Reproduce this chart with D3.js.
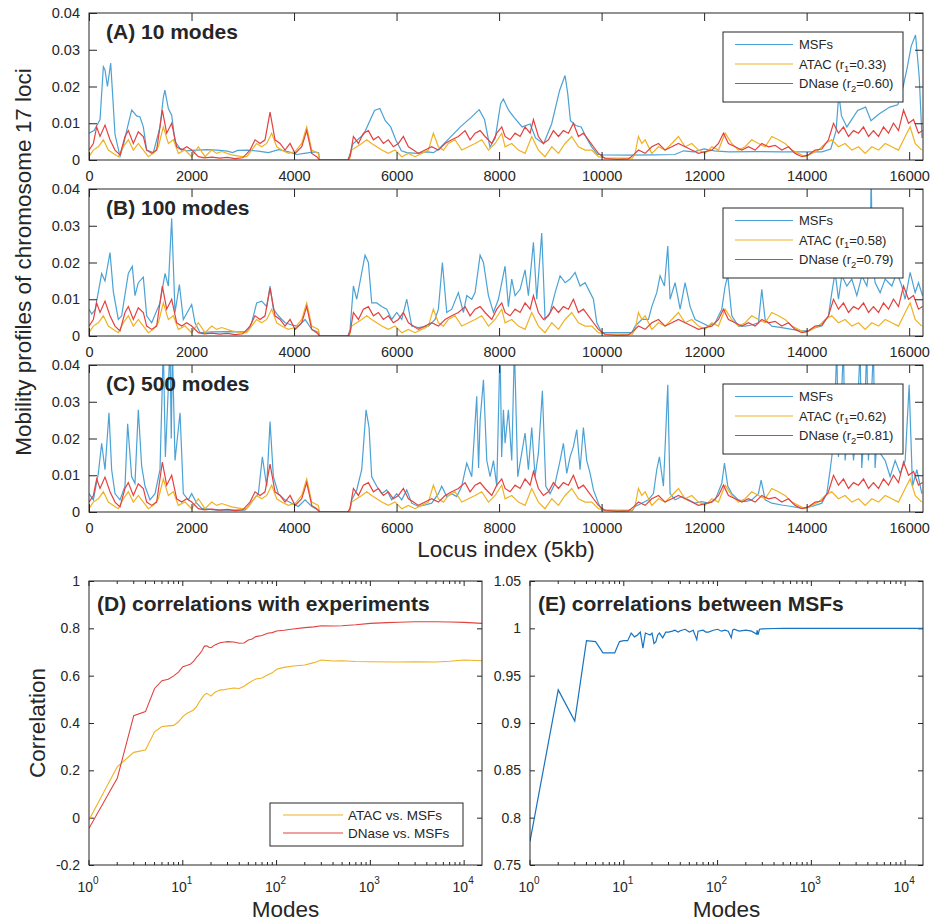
<!DOCTYPE html>
<html><head><meta charset="utf-8">
<script src="https://cdn.jsdelivr.net/npm/d3@7"></script>
<style>
body{margin:0;background:#fff}
svg text{font-family:"Liberation Sans",Arial,Helvetica,sans-serif;fill:#262626}
</style>
</head><body>
<svg id="fig" width="933" height="923"></svg>
<script>
// ---- Mobility profiles (locus index, value) ----
const dnase = [[0,0.0027],[85,0.0045],[150,0.009],[215,0.0064],[312,0.0095],[410,0.0055],[507,0.0027],[605,0.0014],[702,0.0064],[767,0.008],[865,0.0045],[962,0.0077],[1060,0.0064],[1125,0.0027],[1223,0.0018],[1320,0.0027],[1431,0.0136],[1515,0.0073],[1613,0.01],[1711,0.0036],[1808,0.0027],[1906,0.0036],[2003,0.0027],[2133,0.0009],[2250,0.0006],[2400,0.0008],[2550,0.0005],[2700,0.0007],[2850,0.0004],[3000,0.0006],[3141,0.0027],[3239,0.0055],[3337,0.0045],[3434,0.0055],[3532,0.013],[3629,0.0055],[3727,0.0045],[3824,0.0027],[3922,0.0045],[4020,0.0018],[4150,0.0036],[4247,0.008],[4345,0.0018],[4442,0.0009],[4500,0],[5050,0],[5093,0.001],[5158,0.0064],[5256,0.0045],[5353,0.0073],[5450,0.008],[5548,0.0055],[5645,0.0064],[5743,0.0045],[5840,0.0055],[5938,0.0036],[6036,0.0045],[6133,0.0064],[6231,0.0036],[6329,0.0027],[6426,0.0018],[6556,0.0027],[6686,0.0036],[6816,0.0027],[6946,0.0045],[7076,0.0055],[7206,0.0064],[7337,0.008],[7434,0.0055],[7532,0.0073],[7630,0.008],[7727,0.0064],[7857,0.0045],[7955,0.0073],[8052,0.009],[8117,0.0064],[8215,0.0055],[8312,0.0073],[8410,0.0064],[8507,0.009],[8605,0.0073],[8670,0.011],[8767,0.0064],[8865,0.0045],[8963,0.0055],[9060,0.008],[9158,0.0064],[9255,0.008],[9353,0.0073],[9450,0.01],[9548,0.0064],[9645,0.0073],[9743,0.0055],[9841,0.0036],[9938,0.0018],[10068,0.0004],[10300,0.0002],[10524,0.0003],[10621,0.0014],[10719,0.0027],[10849,0.0018],[10979,0.0036],[11109,0.0045],[11239,0.0027],[11369,0.0036],[11499,0.0045],[11629,0.0036],[11759,0.0027],[11889,0.0018],[12019,0.0023],[12150,0.0027],[12280,0.0045],[12377,0.0073],[12475,0.0045],[12605,0.0036],[12735,0.0027],[12865,0.0036],[12995,0.0027],[13125,0.0045],[13255,0.0036],[13385,0.004],[13515,0.0027],[13645,0.0036],[13775,0.0018],[13906,0.0009],[14036,0.0014],[14166,0.0027],[14296,0.003],[14426,0.0055],[14524,0.01],[14621,0.0073],[14719,0.009],[14816,0.0064],[14914,0.008],[15012,0.0073],[15109,0.009],[15207,0.0064],[15304,0.008],[15402,0.0064],[15499,0.009],[15597,0.0073],[15694,0.01],[15792,0.008],[15890,0.0136],[15987,0.01],[16085,0.011],[16182,0.0073],[16260,0.008]];

const atac = [[0,0.0009],[85,0.0027],[182,0.0036],[280,0.0055],[377,0.0027],[475,0.0018],[572,0.0009],[670,0.0036],[767,0.0055],[865,0.0027],[962,0.0045],[1060,0.0027],[1158,0.0009],[1255,0.0018],[1353,0.0036],[1450,0.009],[1548,0.0045],[1646,0.0055],[1743,0.0018],[1873,0.0027],[2003,0.0009],[2133,0.0036],[2264,0.0009],[2393,0.0027],[2491,0.0018],[2589,0.0023],[2784,0.0014],[2979,0.0009],[3076,0.0009],[3174,0.0027],[3271,0.0045],[3369,0.0036],[3467,0.0045],[3564,0.0073],[3662,0.0036],[3759,0.0027],[3889,0.0018],[4020,0.0023],[4150,0.0045],[4247,0.009],[4345,0.0027],[4475,0.0018],[4500,0],[5080,0],[5125,0.0027],[5223,0.0036],[5320,0.0045],[5418,0.0055],[5515,0.0045],[5613,0.0036],[5710,0.0027],[5840,0.0018],[5971,0.0027],[6101,0.0009],[6231,0.0018],[6361,0.0009],[6491,0.0018],[6621,0.0027],[6718,0.0073],[6816,0.0036],[6914,0.0027],[7011,0.0045],[7141,0.0055],[7272,0.0027],[7402,0.0036],[7532,0.0045],[7662,0.0055],[7792,0.0027],[7922,0.0045],[8052,0.0073],[8117,0.0036],[8247,0.0045],[8377,0.0027],[8507,0.0018],[8637,0.0064],[8767,0.0027],[8897,0.0009],[9028,0.0036],[9158,0.0018],[9288,0.0045],[9418,0.0064],[9548,0.0036],[9678,0.0027],[9808,0.0027],[9938,0.0009],[10100,0.0005],[10400,0.0005],[10600,0.0005],[10654,0.0018],[10719,0.0064],[10784,0.0045],[10849,0.0055],[10979,0.0018],[11109,0.0036],[11239,0.0027],[11369,0.0045],[11499,0.0064],[11629,0.0036],[11759,0.0045],[11889,0.0027],[12019,0.0018],[12150,0.0036],[12280,0.0027],[12410,0.0073],[12540,0.0045],[12670,0.0027],[12800,0.0036],[12930,0.0055],[13060,0.0045],[13190,0.0036],[13320,0.0064],[13450,0.0055],[13580,0.0045],[13710,0.0027],[13840,0.0018],[13971,0.0009],[14101,0.0018],[14231,0.0027],[14361,0.0045],[14491,0.0055],[14621,0.0036],[14751,0.0045],[14881,0.0027],[15012,0.0036],[15142,0.0018],[15272,0.0036],[15402,0.0027],[15532,0.0045],[15662,0.0036],[15792,0.0027],[15922,0.0064],[16019,0.009],[16117,0.0045],[16247,0.0027]];

const msf10 = [[0,0.0073],[100,0.008],[215,0.011],[280,0.0254],[312,0.0245],[360,0.02],[423,0.0264],[460,0.018],[507,0.007],[605,0.001],[670,0.004],[735,0.008],[833,0.0136],[930,0.012],[995,0.0117],[1060,0.009],[1125,0.0027],[1255,0.002],[1385,0.009],[1450,0.017],[1480,0.019],[1548,0.014],[1613,0.0122],[1678,0.005],[1775,0.0032],[1900,0.0025],[2100,0.0027],[2300,0.0028],[2500,0.0027],[2700,0.0024],[2800,0.002],[2900,0.0026],[3100,0.0027],[3300,0.0024],[3500,0.002],[3700,0.0028],[3900,0.0022],[4050,0.0015],[4200,0.0018],[4400,0.0022],[4480,0.002],[4500,0],[5050,0],[5100,0.002],[5150,0.0044],[5360,0.007],[5570,0.0135],[5675,0.014],[5780,0.0107],[5885,0.009],[5990,0.0053],[6094,0.0025],[6200,0.002],[6400,0.0018],[6600,0.0022],[6720,0.002],[6826,0.003],[7036,0.006],[7245,0.009],[7455,0.0116],[7612,0.0137],[7716,0.011],[7821,0.0035],[7926,0.006],[8030,0.0153],[8083,0.0166],[8188,0.0135],[8292,0.0116],[8450,0.009],[8606,0.0098],[8711,0.006],[8868,0.0044],[9025,0.0098],[9182,0.019],[9287,0.023],[9340,0.018],[9392,0.0107],[9497,0.0094],[9601,0.009],[9706,0.006],[9810,0.0035],[9915,0.0016],[10020,0.0014],[10500,0.0013],[11000,0.0014],[11430,0.0015],[11600,0.0025],[11800,0.0022],[12000,0.003],[12200,0.0025],[12480,0.0022],[13000,0.0023],[13500,0.0022],[14000,0.0022],[14300,0.0022],[14470,0.003],[14575,0.008],[14627,0.018],[14680,0.012],[14785,0.009],[14995,0.0135],[15150,0.0144],[15255,0.0107],[15412,0.0125],[15621,0.0144],[15778,0.015],[15883,0.02],[15960,0.025],[16040,0.031],[16124,0.034],[16197,0.0225],[16250,0.006]];

const msf100 = [[0,0.0073],[52,0.006],[117,0.007],[247,0.017],[312,0.015],[410,0.0227],[475,0.012],[572,0.0045],[637,0.0055],[767,0.017],[845,0.019],[897,0.011],[962,0.0145],[1060,0.016],[1125,0.0055],[1223,0.0036],[1385,0.009],[1483,0.017],[1548,0.0136],[1613,0.032],[1678,0.0064],[1763,0.014],[1840,0.0045],[2003,0.0086],[2068,0.0036],[2166,0.0009],[2393,0.0011],[2700,0.0012],[3044,0.0011],[3109,0.0018],[3174,0.0036],[3271,0.009],[3369,0.0095],[3467,0.008],[3532,0.0136],[3597,0.0073],[3694,0.0055],[3824,0.0036],[3954,0.003],[4085,0.0027],[4215,0.0045],[4345,0.0018],[4475,0.001],[4500,0],[5050,0],[5093,0.0018],[5158,0.0136],[5223,0.01],[5385,0.022],[5450,0.02],[5515,0.009],[5613,0.009],[5710,0.008],[5808,0.0073],[5906,0.0045],[6003,0.0064],[6101,0.0045],[6199,0.01],[6296,0.0027],[6426,0.0023],[6621,0.0027],[6751,0.0045],[6816,0.0073],[6894,0.02],[6979,0.0064],[7076,0.0073],[7206,0.0118],[7304,0.0064],[7369,0.011],[7467,0.01],[7532,0.0118],[7630,0.022],[7695,0.02],[7792,0.011],[7890,0.0064],[7987,0.01],[8052,0.0145],[8117,0.019],[8182,0.008],[8247,0.0155],[8312,0.011],[8410,0.0127],[8507,0.018],[8572,0.011],[8670,0.0255],[8735,0.01],[8832,0.028],[8897,0.0045],[8995,0.0064],[9093,0.0118],[9190,0.0164],[9288,0.0145],[9385,0.0155],[9483,0.0173],[9580,0.0136],[9678,0.0145],[9776,0.0118],[9841,0.01],[9906,0.0036],[10003,0.0009],[10300,0.0009],[10588,0.0009],[10654,0.0027],[10784,0.0045],[10914,0.0045],[10979,0.008],[11076,0.0118],[11141,0.0164],[11226,0.0136],[11291,0.0245],[11336,0.01],[11434,0.0145],[11532,0.0073],[11629,0.0145],[11727,0.008],[11824,0.0045],[11954,0.0036],[12084,0.0027],[12215,0.0036],[12345,0.0073],[12410,0.0136],[12462,0.0164],[12540,0.0055],[12670,0.0027],[12800,0.0027],[12930,0.003],[13060,0.0036],[13125,0.0127],[13190,0.0045],[13320,0.0027],[13515,0.0023],[13710,0.0018],[13906,0.0014],[14036,0.0014],[14166,0.0023],[14296,0.0027],[14426,0.0055],[14491,0.0118],[14556,0.0173],[14621,0.01],[14686,0.0164],[14784,0.0136],[14881,0.0155],[14979,0.011],[15077,0.0164],[15174,0.0136],[15240,0.02],[15259,0.045],[15280,0.02],[15337,0.0145],[15434,0.0118],[15532,0.0155],[15662,0.0136],[15760,0.0173],[15857,0.0136],[15922,0.01],[16019,0.0173],[16117,0.0118],[16182,0.0145],[16260,0.011]];

const msf500 = [[0,0.005],[85,0.0033],[182,0.0105],[247,0.0187],[312,0.0115],[390,0.027],[442,0.0115],[507,0.005],[605,0.0033],[702,0.007],[754,0.024],[832,0.0096],[897,0.0078],[962,0.0278],[1028,0.0124],[1093,0.007],[1190,0.0033],[1288,0.005],[1385,0.0115],[1450,0.045],[1490,0.015],[1515,0.023],[1580,0.045],[1605,0.02],[1626,0.045],[1678,0.014],[1776,0.027],[1840,0.005],[1938,0.0033],[2003,0.005],[2101,0.0024],[2198,0.001],[2500,0.0005],[3044,0.0005],[3109,0.0015],[3206,0.0033],[3304,0.005],[3382,0.015],[3467,0.007],[3532,0.0246],[3597,0.0096],[3694,0.005],[3824,0.0033],[3954,0.0024],[4085,0.0015],[4215,0.0033],[4345,0.0015],[4475,0.0005],[4500,0],[5080,0],[5125,0.0033],[5223,0.006],[5320,0.0115],[5405,0.0278],[5463,0.023],[5515,0.0096],[5613,0.007],[5710,0.005],[5808,0.006],[5906,0.0033],[6003,0.005],[6101,0.0033],[6199,0.006],[6296,0.0024],[6426,0.0015],[6556,0.0019],[6686,0.0024],[6816,0.005],[6881,0.007],[6979,0.0042],[7076,0.005],[7174,0.0042],[7271,0.007],[7369,0.0133],[7467,0.0096],[7564,0.0315],[7600,0.012],[7630,0.025],[7695,0.036],[7760,0.014],[7825,0.0096],[7890,0.014],[7955,0.007],[8019,0.045],[8050,0.015],[8085,0.0278],[8117,0.0187],[8182,0.0278],[8247,0.014],[8299,0.045],[8364,0.0096],[8442,0.016],[8507,0.0215],[8572,0.0115],[8637,0.023],[8702,0.0096],[8767,0.016],[8845,0.033],[8911,0.007],[8995,0.005],[9093,0.0078],[9190,0.014],[9255,0.0187],[9320,0.0105],[9385,0.015],[9450,0.0178],[9515,0.0224],[9580,0.0115],[9645,0.023],[9710,0.014],[9776,0.0105],[9841,0.006],[9938,0.0024],[10003,0.0005],[10300,0.0004],[10600,0.0004],[10654,0.0015],[10784,0.0024],[10914,0.0033],[11011,0.005],[11076,0.0115],[11128,0.015],[11206,0.007],[11291,0.0346],[11336,0.005],[11434,0.0033],[11564,0.0042],[11694,0.0033],[11824,0.0024],[11954,0.0028],[12084,0.0024],[12215,0.0033],[12345,0.0078],[12397,0.0133],[12462,0.007],[12540,0.005],[12670,0.0033],[12800,0.0028],[12930,0.0033],[13060,0.005],[13112,0.0087],[13190,0.0033],[13320,0.0024],[13515,0.0019],[13710,0.0015],[13906,0.001],[14101,0.0015],[14296,0.0024],[14394,0.005],[14459,0.0115],[14524,0.0187],[14589,0.045],[14620,0.015],[14654,0.023],[14719,0.045],[14750,0.014],[14784,0.0187],[14849,0.0278],[14914,0.014],[14979,0.023],[15044,0.045],[15075,0.012],[15109,0.0187],[15174,0.045],[15205,0.014],[15239,0.023],[15304,0.045],[15335,0.012],[15369,0.0187],[15434,0.016],[15532,0.014],[15629,0.0096],[15727,0.014],[15824,0.0105],[15922,0.014],[16000,0.0346],[16065,0.007],[16150,0.0115],[16247,0.005]];

// ---- Correlations vs number of modes ----
const atacCorr = [[1,-0.01],[2,0.215],[3,0.276],[4,0.286],[5,0.363],[6,0.385],[7,0.388],[8,0.39],[9,0.405],[10,0.427],[11,0.44],[12,0.448],[13,0.455],[14,0.469],[15,0.49],[16,0.505],[17,0.52],[18,0.525],[19,0.52],[20,0.514],[22,0.53],[25,0.539],[28,0.541],[30,0.544],[35,0.548],[40,0.546],[45,0.555],[50,0.568],[55,0.578],[60,0.586],[70,0.59],[80,0.603],[90,0.612],[100,0.627],[120,0.635],[150,0.641],[200,0.645],[250,0.655],[300,0.666],[400,0.662],[500,0.663],[700,0.66],[1000,0.659],[2000,0.658],[3000,0.659],[5000,0.658],[7000,0.661],[10000,0.666],[15500,0.663]];
const dnaseCorr = [[1,-0.045],[2,0.166],[3,0.431],[4,0.448],[5,0.546],[6,0.579],[7,0.585],[8,0.599],[9,0.615],[10,0.638],[11,0.643],[12,0.648],[13,0.66],[14,0.677],[15,0.69],[16,0.705],[17,0.725],[18,0.726],[19,0.72],[20,0.718],[22,0.73],[25,0.739],[28,0.742],[30,0.744],[35,0.742],[40,0.737],[45,0.738],[50,0.751],[55,0.755],[60,0.765],[70,0.77],[80,0.779],[90,0.782],[100,0.789],[120,0.792],[150,0.797],[200,0.803],[250,0.806],[300,0.811],[400,0.81],[500,0.811],[700,0.815],[1000,0.821],[1500,0.824],[2000,0.826],[3000,0.828],[5000,0.828],[7000,0.827],[10000,0.825],[15500,0.821]];
const msfCorr = [[1,0.775],[2,0.935],[3,0.902],[4,0.987],[5,0.986],[6,0.974],[7,0.974],[8,0.974],[9,0.986],[10,0.987],[11,0.987],[12,0.995],[13,0.991],[14,0.993],[15,0.996],[16,0.979],[17,0.995],[18,0.994],[19,0.993],[20,0.995],[21,0.984],[22,0.986],[23,0.993],[24,0.995],[26,0.99],[28,0.996],[30,0.996],[33,0.997],[35,0.998],[38,0.996],[40,0.9975],[45,0.999],[50,0.996],[55,0.998],[60,0.988],[62,0.997],[70,0.998],[75,0.996],[80,0.996],[90,0.998],[100,0.999],[110,0.997],[120,0.998],[130,0.997],[140,0.99],[145,0.998],[150,0.999],[170,0.997],[200,0.998],[230,0.997],[260,0.994],[265,0.998],[270,0.993],[280,0.999],[300,0.9995],[400,0.9998],[500,1.0],[1000,1.0],[15500,1.0]];

const profileTicks = [0,2000,4000,6000,8000,10000,12000,14000,16000];
const profileYTicks = [0,0.01,0.02,0.03,0.04];
const corrYTicksD = [-0.2,0,0.2,0.4,0.6,0.8,1];
const corrYTicksE = [0.75,0.8,0.85,0.9,0.95,1,1.05];
const modeDecades = [0,1,2,3,4];

const panels = [
  {title:"(A) 10 modes",  msf:msf10,  r1:"0.33", r2:"0.60"},
  {title:"(B) 100 modes", msf:msf100, r1:"0.58", r2:"0.79"},
  {title:"(C) 500 modes", msf:msf500, r1:"0.62", r2:"0.81"}
];

const C_MSF = "#4ba2d5", C_ATAC = "#efb223", C_DNASE = "#e2423f", C_AX = "#262626";

const svg = d3.select("#fig");
const defs = svg.append("defs");

function styleAxis(g, fs){
  g.attr("font-family", null).attr("font-size", null);
  g.select(".domain").remove();
  g.selectAll(".tick line").attr("stroke", C_AX);
  g.selectAll(".tick text").attr("fill", C_AX).style("font-size", fs + "px");
}

function frame(g, x0, x1, y0, y1){
  g.append("rect").attr("x", x0).attr("y", y0).attr("width", x1 - x0).attr("height", y1 - y0)
    .attr("fill", "none").attr("stroke", C_AX).attr("stroke-width", 1);
}

function sub(textSel, pre, s, post, fs){
  textSel.append("tspan").text(pre);
  textSel.append("tspan").attr("dy", 3.5).style("font-size", (fs * 0.72) + "px").text(s);
  textSel.append("tspan").attr("dy", -3.5).text(post);
}

// ---- top three profile panels ----
const L = 89, R = 923;
const tops = [[13,160],[189,336],[365,512]];
const x = d3.scaleLinear().domain([0, 16270]).range([L, R]);

panels.forEach((p, i) => {
  const [t, b] = tops[i];
  const y = d3.scaleLinear().domain([0, 0.04]).range([b, t]);
  const g = svg.append("g");
  const cid = "clipP" + i;
  defs.append("clipPath").attr("id", cid).append("rect")
    .attr("x", L).attr("y", t).attr("width", R - L).attr("height", b - t);

  const line = d3.line().x(d => x(d[0])).y(d => y(d[1]));
  const lg = g.append("g").attr("clip-path", `url(#${cid})`);
  lg.append("path").datum(p.msf).attr("d", line).attr("fill", "none").attr("stroke", C_MSF).attr("stroke-width", 1.2);
  lg.append("path").datum(atac).attr("d", line).attr("fill", "none").attr("stroke", C_ATAC).attr("stroke-width", 1.2);
  lg.append("path").datum(dnase).attr("d", line).attr("fill", "none").attr("stroke", C_DNASE).attr("stroke-width", 1.2);

  g.append("g").attr("transform", `translate(0,${b})`)
    .call(d3.axisBottom(x).tickValues(profileTicks).tickSize(-8).tickPadding(11).tickFormat(d3.format("d")))
    .call(a => styleAxis(a, 14.5));
  g.append("g").attr("transform", `translate(0,${t})`)
    .call(d3.axisTop(x).tickValues(profileTicks).tickSize(-8).tickFormat(""))
    .call(a => styleAxis(a, 14.5));
  g.append("g").attr("transform", `translate(${L},0)`)
    .call(d3.axisLeft(y).tickValues(profileYTicks).tickSize(-8).tickPadding(9)
      .tickFormat(d => d === 0 ? "0" : d3.format(".2f")(d)))
    .call(a => styleAxis(a, 14.5));
  g.append("g").attr("transform", `translate(${R},0)`)
    .call(d3.axisRight(y).tickValues(profileYTicks).tickSize(-8).tickFormat(""))
    .call(a => styleAxis(a, 14.5));
  frame(g, L, R, t, b);

  g.append("text").attr("x", 106).attr("y", t + 26.3).style("font-size", "21px").style("font-weight", "bold").text(p.title);

  // legend
  const lx = 723, ly = t + 19, fs = 13;
  const leg = g.append("g");
  leg.append("rect").attr("x", lx).attr("y", ly).attr("width", 180).attr("height", 70)
    .attr("fill", "#fff").attr("stroke", C_AX).attr("stroke-width", 1);
  const rows = [
    {c: C_MSF, dy: 12.5, pre: "MSFs"},
    {c: C_ATAC, dy: 32, pre: "ATAC (r", s: "1", post: "=" + p.r1 + ")"},
    {c: C_DNASE, dy: 51.5, pre: "DNase (r", s: "2", post: "=" + p.r2 + ")"}
  ];
  rows.forEach(r => {
    leg.append("line").attr("x1", lx + 12).attr("x2", lx + 70).attr("y1", ly + r.dy).attr("y2", ly + r.dy)
      .attr("stroke", r.c).attr("stroke-width", 1.2);
    const tx = leg.append("text").attr("x", lx + 76).attr("y", ly + r.dy + 4.6).style("font-size", fs + "px");
    if (r.s) sub(tx, r.pre, r.s, r.post, fs); else tx.text(r.pre);
  });
});

svg.append("text").attr("transform", "translate(31,262) rotate(-90)").attr("text-anchor", "middle")
  .style("font-size", "22.5px").text("Mobility profiles of chromosome 17 loci");
svg.append("text").attr("x", 506).attr("y", 557).attr("text-anchor", "middle")
  .style("font-size", "22.5px").text("Locus index (5kb)");

// ---- bottom correlation panels ----
const bt = 581, bb = 865;
function corrPanel(x0, x1, yDomain, yTicks, cid, title){
  const xs = d3.scaleLog().domain([1, 15500]).range([x0, x1]);
  const ys = d3.scaleLinear().domain(yDomain).range([bb, bt]);
  const g = svg.append("g");
  defs.append("clipPath").attr("id", cid).append("rect")
    .attr("x", x0).attr("y", bt).attr("width", x1 - x0).attr("height", bb - bt);

  // ticks: major + minor on bottom and top
  const minor = [];
  modeDecades.forEach(k => { for (let m = 2; m <= 9; m++) { const v = m * Math.pow(10, k); if (v < 15500) minor.push(v); } });
  const majors = modeDecades.map(k => Math.pow(10, k));
  [bb, bt].forEach(yy => {
    const dir = yy === bb ? -1 : 1;
    majors.forEach(v => g.append("line").attr("x1", xs(v)).attr("x2", xs(v)).attr("y1", yy).attr("y2", yy + dir * 5).attr("stroke", C_AX));
    minor.forEach(v => g.append("line").attr("x1", xs(v)).attr("x2", xs(v)).attr("y1", yy).attr("y2", yy + dir * 3).attr("stroke", C_AX));
  });
  majors.forEach((v, i) => {
    const tx = g.append("text").attr("x", xs(v) - 1).attr("y", 892).attr("text-anchor", "middle").style("font-size", "14px");
    tx.append("tspan").text("10");
    tx.append("tspan").attr("dy", -8).style("font-size", "10px").text(modeDecades[i]);
  });
  g.append("g").attr("transform", `translate(${x0},0)`)
    .call(d3.axisLeft(ys).tickValues(yTicks).tickSize(-5).tickPadding(9).tickFormat(d => String(+d.toFixed(2))))
    .call(a => styleAxis(a, 14));
  g.append("g").attr("transform", `translate(${x1},0)`)
    .call(d3.axisRight(ys).tickValues(yTicks).tickSize(-5).tickFormat(""))
    .call(a => styleAxis(a, 14));

  const lg = g.append("g").attr("clip-path", `url(#${cid})`);
  frame(g, x0, x1, bt, bb);
  g.append("text").attr("x", x0 + 8).attr("y", 611).style("font-size", "21px").style("font-weight", "bold").text(title);
  g.append("text").attr("x", (x0 + x1) / 2).attr("y", 917).attr("text-anchor", "middle").style("font-size", "22.5px").text("Modes");
  return {xs, ys, lg, g};
}

const D = corrPanel(89, 482, [-0.2, 1], corrYTicksD, "clipD", "(D) correlations with experiments");
const lineD = d3.line().x(d => D.xs(d[0])).y(d => D.ys(d[1]));
D.lg.append("path").datum(atacCorr).attr("d", lineD).attr("fill", "none").attr("stroke", C_ATAC).attr("stroke-width", 1.1);
D.lg.append("path").datum(dnaseCorr).attr("d", lineD).attr("fill", "none").attr("stroke", C_DNASE).attr("stroke-width", 1.1);
svg.append("text").attr("transform", "translate(45,723) rotate(-90)").attr("text-anchor", "middle")
  .style("font-size", "22.5px").text("Correlation");

// legend in D
const dl = D.g.append("g");
dl.append("rect").attr("x", 270).attr("y", 803).attr("width", 193).attr("height", 43)
  .attr("fill", "#fff").attr("stroke", C_AX).attr("stroke-width", 1);
[[C_ATAC, 815, "ATAC vs. MSFs"], [C_DNASE, 833, "DNase vs. MSFs"]].forEach(([c, yy, t]) => {
  dl.append("line").attr("x1", 283).attr("x2", 343).attr("y1", yy).attr("y2", yy).attr("stroke", c).attr("stroke-width", 1.1);
  dl.append("text").attr("x", 348).attr("y", yy + 5).style("font-size", "13.5px").text(t);
});

const E = corrPanel(530, 923, [0.75, 1.05], corrYTicksE, "clipE", "(E) correlations between MSFs");
const lineE = d3.line().x(d => E.xs(d[0])).y(d => E.ys(d[1]));
E.lg.append("path").datum(msfCorr).attr("d", lineE).attr("fill", "none").attr("stroke", "#1a73bf").attr("stroke-width", 1.2);
</script>
</body></html>
